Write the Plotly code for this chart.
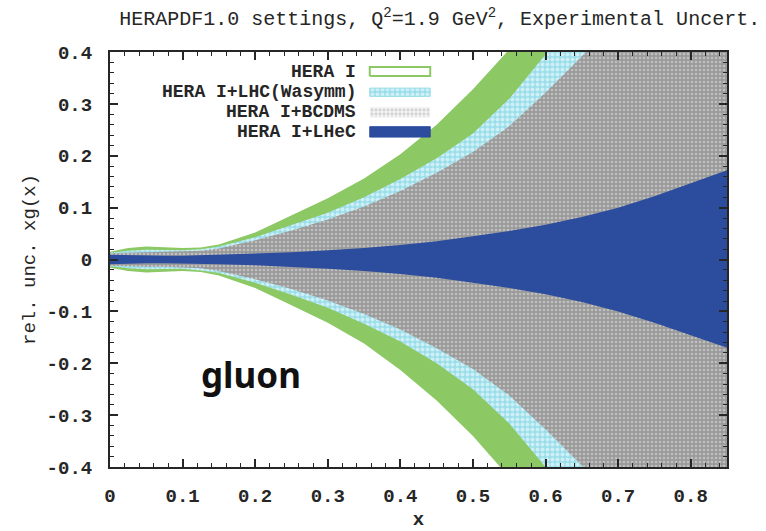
import plotly.graph_objects as go

# x grid and relative experimental uncertainty bands of xg(x)
x = [0, 0.025, 0.05, 0.075, 0.1, 0.125, 0.15, 0.2, 0.25, 0.3, 0.35, 0.4,
     0.45, 0.5, 0.55, 0.6, 0.65, 0.7, 0.75, 0.8, 0.85]

hera_up = [0.015, 0.022, 0.025, 0.024, 0.022, 0.023, 0.029, 0.052, 0.085, 0.118, 0.156,
           0.203, 0.26, 0.328, 0.405, 0.5, 0.6, 0.7, 0.8, 0.9, 1.0]
hera_lo = [-0.016, -0.022, -0.025, -0.024, -0.022, -0.024, -0.031, -0.055, -0.088, -0.122,
           -0.162, -0.213, -0.272, -0.34, -0.42, -0.51, -0.61, -0.72, -0.82, -0.92, -1.02]

lhc_up = [0.013, 0.017, 0.019, 0.019, 0.018, 0.02, 0.025, 0.043, 0.066, 0.09, 0.12,
          0.155, 0.195, 0.243, 0.31, 0.395, 0.49, 0.58, 0.68, 0.78, 0.88]
lhc_lo = [-0.013, -0.017, -0.019, -0.019, -0.018, -0.021, -0.026, -0.045, -0.068, -0.093,
          -0.124, -0.158, -0.2, -0.25, -0.316, -0.4, -0.49, -0.58, -0.68, -0.78, -0.88]

bcdms_up = [0.012, 0.013, 0.014, 0.014, 0.015, 0.017, 0.021, 0.037, 0.056, 0.077, 0.102,
            0.132, 0.167, 0.207, 0.257, 0.322, 0.392, 0.47, 0.56, 0.65, 0.75]
bcdms_lo = [-0.012, -0.013, -0.014, -0.014, -0.015, -0.017, -0.022, -0.038, -0.057, -0.079,
            -0.105, -0.135, -0.171, -0.211, -0.262, -0.327, -0.397, -0.475, -0.56, -0.65, -0.75]

lhec_up = [0.009, 0.008, 0.007, 0.007, 0.007, 0.008, 0.009, 0.011, 0.014, 0.018, 0.022,
           0.028, 0.035, 0.045, 0.055, 0.067, 0.082, 0.1, 0.122, 0.147, 0.172]
lhec_lo = [-0.009, -0.008, -0.007, -0.007, -0.007, -0.008, -0.009, -0.011, -0.014, -0.018,
           -0.022, -0.028, -0.035, -0.045, -0.055, -0.067, -0.082, -0.1, -0.122, -0.146, -0.17]

names = ["HERA I", "HERA I+LHC(Wasymm)", "HERA I+BCDMS", "HERA I+LHeC"]

x_ticks = [0, 0.1, 0.2, 0.3, 0.4, 0.5, 0.6, 0.7, 0.8]
x_ticktext = ["0", "0.1", "0.2", "0.3", "0.4", "0.5", "0.6", "0.7", "0.8"]
y_ticks = [0.4, 0.3, 0.2, 0.1, 0, -0.1, -0.2, -0.3, -0.4]
y_ticktext = ["0.4", "0.3", "0.2", "0.1", "0", "-0.1", "-0.2", "-0.3", "-0.4"]

GREEN = "#8cc864"
CYAN = "#9adeea"
GRAY = "#9a9a9a"
BLUE = "#2c4c9e"
INK = "#262626"
MONO = "Liberation Mono"

cyan_pattern = dict(shape=".", fgcolor="white", bgcolor=CYAN, size=5, solidity=0.5)
gray_pattern = dict(shape=".", fgcolor="#e6e6e6", bgcolor=GRAY, size=4, solidity=0.35)

styles = [
    dict(fillcolor=GREEN),
    dict(fillcolor=CYAN, fillpattern=cyan_pattern),
    dict(fillcolor=GRAY, fillpattern=gray_pattern),
    dict(fillcolor=BLUE),
]
bands = [(hera_up, hera_lo), (lhc_up, lhc_lo), (bcdms_up, bcdms_lo), (lhec_up, lhec_lo)]

fig = go.Figure()
for name, (up, lo), st in zip(names, bands, styles):
    fig.add_trace(go.Scatter(
        x=x + x[::-1], y=up + lo[::-1], mode="lines", fill="toself",
        line=dict(width=0), name=name, showlegend=False, hoverinfo="skip", **st))

# legend keys, drawn on an overlay unit axis so the fill patterns can be reused
key_x0, key_x1 = 0.421, 0.519
key_rows = [(0.942, 0.964), (0.893, 0.913), (0.843, 0.867), (0.795, 0.82)]
key_styles = [
    dict(fillcolor="white", line=dict(color=GREEN, width=2)),
    dict(fillcolor=CYAN, fillpattern=cyan_pattern, line=dict(color=CYAN, width=1)),
    dict(fillcolor="#dcdcdc", fillpattern=dict(shape=".", fgcolor="#b0b0b0", bgcolor="#f2f2f2",
                                               size=4, solidity=0.4),
         line=dict(width=0)),
    dict(fillcolor=BLUE, line=dict(color=BLUE, width=1)),
]
for (y0, y1), st in zip(key_rows, key_styles):
    fig.add_trace(go.Scatter(
        x=[key_x0, key_x1, key_x1, key_x0, key_x0], y=[y0, y0, y1, y1, y0],
        mode="lines", fill="toself", xaxis="x2", yaxis="y2",
        showlegend=False, hoverinfo="skip", **st))

annotations = []
for name, (y0, y1) in zip(names, key_rows):
    annotations.append(dict(
        text=name, xref="paper", yref="paper", x=0.4, y=(y0 + y1) / 2,
        xanchor="right", yanchor="middle", showarrow=False, borderpad=0,
        font=dict(family=MONO, size=18, color=INK, weight="bold")))
annotations.append(dict(
    text="gluon", xref="x", yref="y", x=0.194, y=-0.222, showarrow=False,
    xanchor="center", yanchor="middle",
    font=dict(family="Noto Sans", size=35, color="#111111", weight="bold")))

axis_common = dict(
    showline=True, linecolor=INK, linewidth=2, mirror="allticks",
    ticks="inside", ticklen=8, tickwidth=1.5, tickcolor=INK,
    showgrid=False, zeroline=False, automargin=False,
    tickfont=dict(family=MONO, size=19, color=INK, weight="bold"),
    minor=dict(ticks="inside", ticklen=4, tickwidth=1, tickcolor=INK, dtick=0.02),
)

fig.update_layout(
    width=766, height=531,
    margin=dict(l=110, r=39, t=52, b=64),
    plot_bgcolor="white", paper_bgcolor="white",
    title=dict(text="HERAPDF1.0 settings, Q<sup>2</sup>=1.9 GeV<sup>2</sup>, Experimental Uncert.",
               x=0.574, xref="container", xanchor="center", y=0.966, yanchor="middle",
               font=dict(family=MONO, size=20, color=INK)),
    xaxis=dict(range=[0, 0.85], tickvals=x_ticks, ticktext=x_ticktext,
               title=dict(text="x", font=dict(family=MONO, size=19, color=INK, weight="bold"),
                          standoff=12),
               ticklabelstandoff=10, **axis_common),
    yaxis=dict(range=[-0.4, 0.4], tickvals=y_ticks, ticktext=y_ticktext,
               title=dict(text="rel. unc. xg(x)", font=dict(family=MONO, size=19, color=INK),
                          standoff=6),
               ticklabelstandoff=12, **axis_common),
    xaxis2=dict(range=[0, 1], overlaying="x", visible=False, fixedrange=True),
    yaxis2=dict(range=[0, 1], overlaying="y", visible=False, fixedrange=True),
    annotations=annotations,
    showlegend=False,
)

fig.write_html("out.html")
